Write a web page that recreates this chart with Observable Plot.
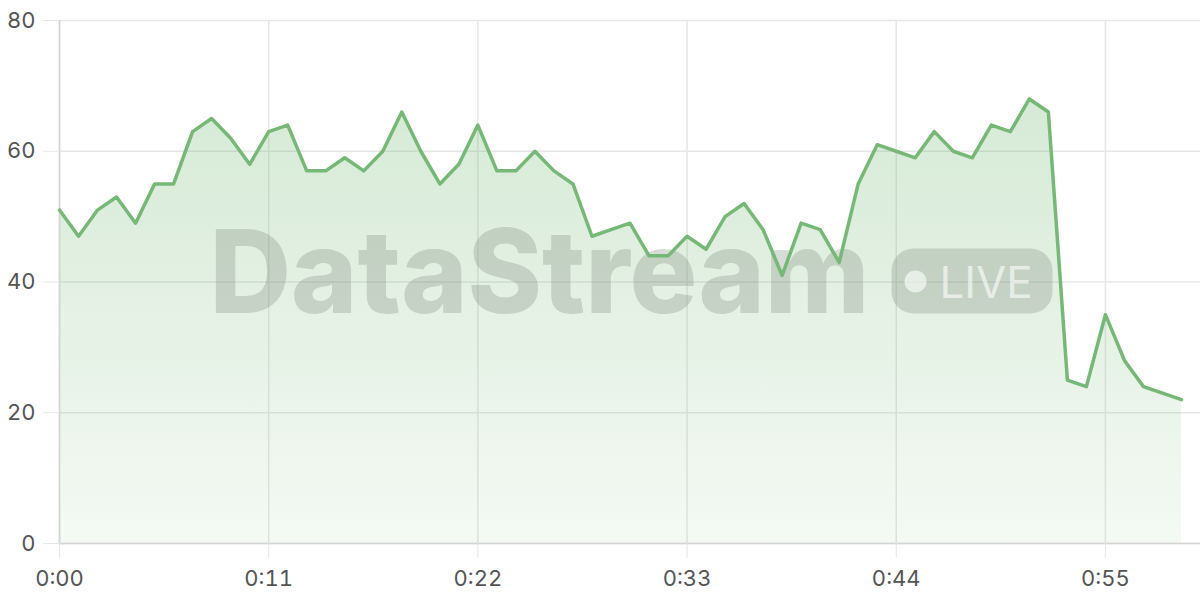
<!DOCTYPE html>
<html>
<head>
<meta charset="utf-8">
<script src="https://cdn.jsdelivr.net/npm/d3@7"></script>
<script src="https://cdn.jsdelivr.net/npm/@observablehq/plot@0.6"></script>
<style>
  html, body { margin: 0; padding: 0; background: #fff; }
  #chart { width: 1200px; height: 600px; }
</style>
</head>
<body>
<div id="chart"></div>
<script>
// ---- data ----
const seconds = d3.range(0, 60);
const values = [51, 47, 51, 53, 49, 55, 55, 63, 65, 62,
                58, 63, 64, 57, 57, 59, 57, 60, 66, 60,
                55, 58, 64, 57, 57, 60, 57, 55, 47, 48,
                49, 44, 44, 47, 45, 50, 52, 48, 41, 49,
                48, 43, 55, 61, 60, 59, 63, 60, 59, 64,
                63, 68, 66, 25, 24, 35, 28, 24, 23, 22];
const xTicks = [0, 11, 22, 33, 44, 55];
const xTickLabels = ["0:00", "0:11", "0:22", "0:33", "0:44", "0:55"];
const yTicks = [0, 20, 40, 60, 80];
const watermarkText = "DataStream";
const badgeText = "LIVE";

const data = seconds.map((s, i) => ({ t: s, v: values[i] }));

const lineColor = "#76b876";
const gridColor = "#e6e6e6";

const chart = Plot.plot({
  width: 1200,
  height: 600,
  marginLeft: 59,
  marginRight: 0,
  marginTop: 20,
  marginBottom: 57,
  style: { fontFamily: "Inter, 'Liberation Sans', sans-serif", fontSize: "22px", color: "#555", background: "#fff" },
  x: { domain: [0, 60], label: null },
  y: { domain: [0, 80], label: null },
  marks: [
    Plot.gridY(yTicks, { stroke: gridColor, strokeOpacity: 1, strokeWidth: 1.5 }),
    Plot.gridX(xTicks, { stroke: gridColor, strokeOpacity: 1, strokeWidth: 1.5 }),
    Plot.areaY(data, { x: "t", y: "v", fill: "url(#areaGrad)", curve: "linear" }),
    Plot.ruleX([0], { stroke: "#d4d4d4", strokeWidth: 1.5 }),
    Plot.ruleY([0], { stroke: "#d4d4d4", strokeWidth: 1.5 }),
    Plot.lineY(data, { x: "t", y: "v", stroke: lineColor, strokeWidth: 3.5, curve: "linear" }),
    Plot.axisY({ ticks: yTicks, tickSize: 16, tickPadding: 8, stroke: gridColor, strokeOpacity: 1, fill: "#555", label: null }),
    Plot.axisX({ ticks: xTicks, tickFormat: (d) => xTickLabels[xTicks.indexOf(d)], tickSize: 15, tickPadding: 12, stroke: gridColor, strokeOpacity: 1, fill: "#555", label: null })
  ]
});

// gradient for area fill
const svg = d3.select(chart);
const defs = svg.insert("defs", ":first-child");
const grad = defs.append("linearGradient").attr("id", "areaGrad").attr("x1", 0).attr("y1", 0).attr("x2", 0).attr("y2", 1);
grad.append("stop").attr("offset", "0%").attr("stop-color", lineColor).attr("stop-opacity", 0.3);
grad.append("stop").attr("offset", "100%").attr("stop-color", lineColor).attr("stop-opacity", 0.08);

// watermark placed between area and line
const cx = 59 + (1200 - 59) / 2;
const cy = 20 + (600 - 20 - 57) / 2;
const lineG = chart.querySelector('g[aria-label="line"]');
const wm = document.createElementNS("http://www.w3.org/2000/svg", "g");
chart.insertBefore(wm, lineG);
const w = d3.select(wm).attr("pointer-events", "none").attr("text-anchor", "start");
w.append("text")
  .attr("x", cx - 420).attr("y", cy + 31)
  .attr("text-anchor", "start")
  .attr("textLength", 660).attr("lengthAdjust", "spacingAndGlyphs")
  .attr("font-family", "Inter, 'Liberation Sans', sans-serif")
  .attr("font-weight", 800).attr("font-size", 116)
  .attr("fill", "#7d8a7d").attr("fill-opacity", 0.3)
  .text(watermarkText);
w.append("rect")
  .attr("x", cx + 262).attr("y", cy - 33).attr("width", 161).attr("height", 65).attr("rx", 22)
  .attr("fill", "#7d8a7d").attr("fill-opacity", 0.3);
w.append("circle").attr("cx", cx + 286).attr("cy", cy).attr("r", 11).attr("fill", "#fff").attr("fill-opacity", 0.6);
w.append("text")
  .attr("x", cx + 310).attr("y", cy + 16)
  .attr("text-anchor", "start")
  .attr("textLength", 93).attr("lengthAdjust", "spacingAndGlyphs")
  .attr("font-family", "Inter, 'Liberation Sans', sans-serif")
  .attr("font-weight", 400).attr("font-size", 44)
  .attr("fill", "#fff").attr("fill-opacity", 0.6)
  .text(badgeText);

document.getElementById("chart").appendChild(chart);
</script>
</body>
</html>
